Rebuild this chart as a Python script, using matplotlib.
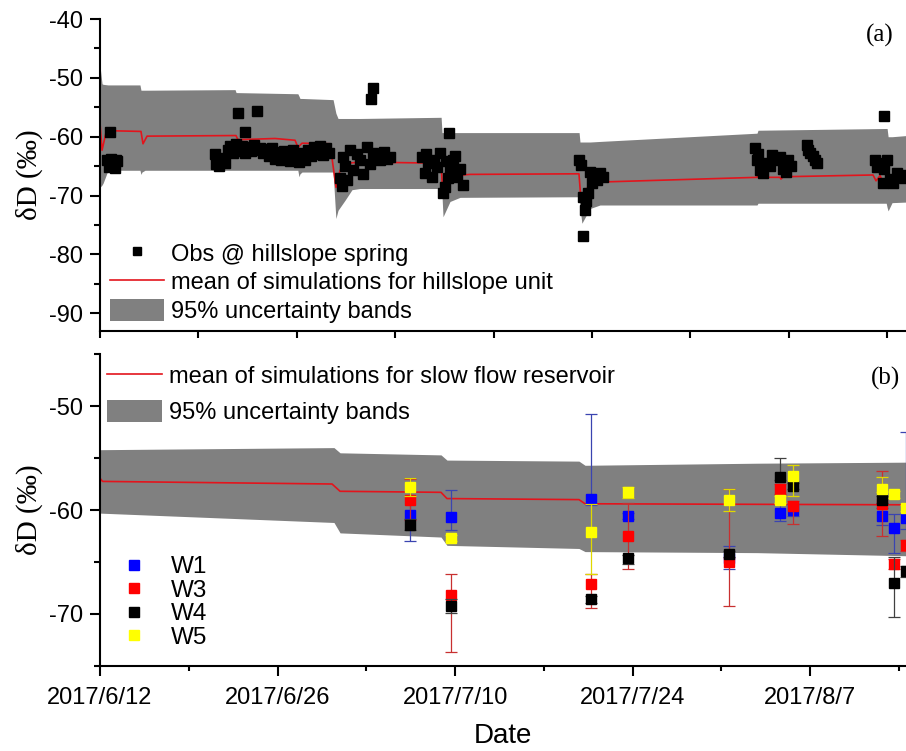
import numpy as np
import matplotlib
matplotlib.use('Agg')
import matplotlib.pyplot as plt
from matplotlib.ticker import MultipleLocator, FixedLocator, NullFormatter
from matplotlib.lines import Line2D
from matplotlib.patches import Patch

plt.rcParams['font.family'] = ['Liberation Sans', 'DejaVu Sans']
plt.rcParams['axes.unicode_minus'] = False

# ---------------- data (days since 2017/6/12) ----------------
date_labels = ["2017/6/12", "2017/6/26", "2017/7/10", "2017/7/24", "2017/8/7"]
date_label_days = [0, 14, 28, 42, 56]

# (a) hillslope unit: 95% band
a_band_day = [0, 0.16, 0.24, 0.63, 3.15, 3.23, 3.31, 3.55, 10.65, 10.73, 15.6, 15.69,
              15.77, 15.93, 18.38, 18.6, 18.77, 19.32, 19.87, 20.5, 26.9, 26.97, 27.05,
              27.6, 28.39, 37.78, 37.85, 38.0, 38.64, 39.43, 51.81, 51.89, 62.0, 62.07,
              62.15, 62.46, 63.6]
a_band_lo = [-68.6, -68.2, -67.9, -65.7, -65.7, -66.4, -66.0, -65.7, -65.7, -65.7, -65.7,
             -66.8, -66.3, -66.0, -66.0, -73.9, -72.5, -70.8, -69.0, -68.8, -68.8, -70.0,
             -73.6, -71.0, -70.3, -70.2, -72.0, -74.7, -72.2, -71.6, -71.6, -71.3, -71.3,
             -72.0, -72.6, -71.2, -71.1]
a_band_hi = [-48.0, -51.0, -51.1, -51.2, -51.2, -52.1, -52.1, -52.1, -52.0, -52.5, -52.7,
             -53.1, -53.5, -53.5, -53.7, -56.0, -56.9, -56.9, -56.9, -56.9, -56.7, -59.3,
             -59.3, -59.3, -59.3, -59.3, -60.9, -60.9, -60.9, -60.8, -59.4, -58.9, -58.6,
             -58.6, -60.0, -60.0, -59.8]
# (a) mean of simulations
a_mean_day = [0, 0.16, 0.47, 1.18, 3.23, 3.39, 3.71, 10.72, 10.88, 13.80, 15.38, 15.61,
              15.93, 18.14, 18.61, 18.93, 19.56, 20.50, 26.89, 27.05, 27.36, 28.00, 29.18,
              37.77, 37.93, 38.48, 39.43, 51.81, 51.89, 52.05, 53.62, 53.70, 53.86, 60.96,
              61.20, 61.51, 61.91, 62.30, 63.6]
a_mean = [-57.7, -62.3, -59.3, -59.0, -59.1, -61.2, -59.9, -59.8, -60.5, -60.3, -60.6,
          -61.8, -61.1, -61.2, -68.6, -65.7, -64.5, -64.3, -64.5, -70.2, -67.5, -66.6,
          -66.4, -66.3, -70.8, -68.5, -67.7, -66.9, -66.5, -66.9, -66.9, -67.2, -66.8,
          -66.5, -67.5, -66.6, -68.5, -67.3, -67.0]
# (a) observations at hillslope spring
obs_day = [0.55, 0.71, 0.87, 1.03, 1.18, 1.34, 0.79, 1.26, 0.79,
           9.07, 9.15, 9.38, 9.62, 9.86, 10.09, 10.25, 10.49, 10.72, 10.96, 11.20, 11.43,
           11.67, 11.91, 12.14, 12.38, 12.62, 12.85, 13.09, 13.33, 13.56, 13.80, 14.04,
           14.27, 14.51, 14.75, 14.98, 15.22, 15.46, 15.69, 15.93, 16.17, 16.40, 16.64,
           16.88, 17.11, 17.35, 17.59, 17.82, 18.06, 10.88, 12.38, 11.43,
           18.93, 19.08, 19.16, 19.32, 19.48, 19.72, 19.95, 20.27, 20.50, 20.74, 21.06,
           21.29, 21.53, 21.84, 22.08, 22.40, 22.63, 22.87, 21.53, 21.37,
           25.39, 25.63, 25.71, 25.87, 26.18, 26.34, 26.58, 26.81, 27.52, 27.84, 28.39,
           28.63, 27.21, 27.05, 28.15, 27.29, 27.60, 28.00, 27.44,
           37.77, 37.93, 38.09, 38.25, 38.09, 38.80, 39.04, 39.43, 38.48, 39.19, 38.64,
           39.67, 38.33,
           51.65, 51.81, 52.05, 52.60, 52.99, 53.39, 53.86, 54.25, 52.28, 52.83, 53.62,
           54.10, 54.49, 51.89,
           55.75, 55.99, 56.38, 56.54, 55.83, 56.23,
           61.83, 61.12, 61.51, 62.06, 61.75, 62.30, 62.85, 63.25, 62.54, 61.27, 61.83, 63.40]
obs_val = [-64.0, -65.2, -63.7, -64.8, -65.3, -64.2, -64.6, -63.9, -59.2,
           -63.0, -64.6, -65.0, -63.6, -64.4, -62.3, -61.6, -62.7, -61.3, -62.4, -61.5, -62.8,
           -61.7, -62.5, -61.4, -62.3, -61.9, -62.8, -62.1, -63.2, -62.0, -63.8, -62.6,
           -64.0, -62.4, -63.5, -64.2, -62.3, -63.6, -64.3, -62.8, -63.9, -62.2, -63.3,
           -61.7, -62.9, -61.6, -63.1, -62.0, -62.8, -55.9, -55.6, -59.2,
           -67.0, -68.3, -63.4, -65.0, -67.4, -62.3, -65.7, -63.0, -64.0, -66.3, -61.7,
           -64.6, -62.8, -63.2, -64.0, -62.6, -63.7, -63.5, -51.7, -53.6,
           -63.4, -66.2, -63.0, -64.5, -66.8, -64.0, -65.1, -62.8, -59.3, -64.0, -65.4,
           -68.2, -68.5, -69.6, -66.8, -64.2, -65.5, -63.3, -67.0,
           -64.0, -64.8, -70.2, -72.5, -76.9, -67.9, -66.5, -66.2, -69.6, -67.4, -66.0,
           -66.8, -71.0,
           -62.0, -64.0, -65.7, -64.5, -63.1, -64.0, -65.4, -64.0, -66.2, -65.0, -63.5,
           -66.0, -65.0, -63.0,
           -61.4, -62.8, -64.0, -64.5, -62.2, -63.2,
           -56.5, -64.0, -64.5, -64.0, -67.9, -67.1, -66.2, -66.5, -67.9, -65.2, -65.5, -67.0]

# (b) slow flow reservoir
b_band_day = [0, 18.45, 18.93, 26.89, 27.36, 37.77, 38.25, 51.81, 63.6]
b_band_lo = [-60.3, -61.2, -62.2, -62.6, -63.4, -63.7, -64.0, -64.1, -64.4]
b_band_hi = [-54.2, -54.0, -54.5, -54.7, -55.2, -55.3, -55.7, -55.5, -55.4]
b_mean_day = [0, 0.2, 18.3, 18.93, 26.89, 27.36, 37.77, 38.25, 63.6]
b_mean = [-56.95, -57.25, -57.5, -58.2, -58.3, -58.9, -59.0, -59.4, -59.5]

well_day = [24.45, 27.66, 38.70, 41.62, 49.60, 53.62, 54.63, 61.64, 62.64, 63.56]
W1 = [-60.5, -60.7, -58.9, -60.6, -64.6, -60.3, -60.0, -60.6, -61.7, -60.8]
W1_lo = [2.5, 1.2, 0.6, 0.3, 1.1, 0.8, 0.6, 0.8, 2.4, 1.0]
W1_hi = [3.6, 2.6, 8.1, 0.3, 1.1, 0.8, 0.6, 0.8, 1.3, 8.3]
W3 = [-59.0, -68.2, -67.1, -62.5, -65.0, -58.0, -59.6, -59.4, -65.2, -63.4]
W3_lo = [2.0, 5.5, 2.3, 3.2, 4.2, 0.5, 1.7, 3.1, 0.5, 0.5]
W3_hi = [2.0, 2.0, 0.9, 3.2, 7.0, 0.5, 0.5, 3.15, 0.5, 0.5]
W4 = [-61.4, -69.2, -68.6, -64.6, -64.2, -56.8, -57.7, -59.0, -67.0, -65.9]
W4_lo = [0.5, 0.7, 0.3, 0.6, 0.3, 0.3, 0.3, 0.3, 3.3, 0.5]
W4_hi = [0.5, 0.6, 0.3, 0.3, 0.3, 1.8, 0.3, 0.3, 2.5, 0.5]
W5 = [-57.8, -62.7, -62.1, -58.3, -59.0, -59.0, -56.7, -58.0, -58.5, -59.8]
W5_lo = [0.9, 0.3, 4.1, 0.5, 1.1, 0.3, 2.0, 0.3, 0.3, 0.3]
W5_hi = [0.9, 0.3, 2.7, 0.5, 1.0, 0.3, 1.0, 1.2, 0.3, 0.3]

wells = [("W1", W1, W1_lo, W1_hi, "#0000ff", "#3a44b0"),
         ("W3", W3, W3_lo, W3_hi, "#ff0000", "#c83030"),
         ("W4", W4, W4_lo, W4_hi, "#000000", "#404040"),
         ("W5", W5, W5_lo, W5_hi, "#ffff00", "#e0d800")]

# ---------------- figure ----------------
GRAY = "#808080"
RED = "#e3141c"
X_MAX = 63.56

fig = plt.figure(figsize=(9.06, 7.51), dpi=100)
ax1 = fig.add_axes([0.1104, 0.5593, 0.8896, 0.4154])
ax2 = fig.add_axes([0.1104, 0.1132, 0.8896, 0.4154])

for ax in (ax1, ax2):
    for s in ("top", "right"):
        ax.spines[s].set_visible(False)
    for s in ("left", "bottom"):
        ax.spines[s].set_linewidth(1.5)
    ax.set_xlim(0, X_MAX)
    ax.tick_params(which="major", direction="out", width=1.5, labelsize=17)
    ax.tick_params(which="minor", direction="out", width=1.5)

# panel (a)
ax1.fill_between(a_band_day, a_band_lo, a_band_hi, color=GRAY, lw=0, zorder=1)
ax1.plot(a_mean_day, a_mean, color=RED, lw=1.2, zorder=2)
ax1.plot(obs_day, obs_val, ls="none", marker="s", ms=6.8, color="black", zorder=3)
ax1.set_ylim(-93, -40)
ax1.yaxis.set_major_locator(MultipleLocator(10))
ax1.yaxis.set_minor_locator(MultipleLocator(5))
ax1.xaxis.set_major_locator(FixedLocator(np.arange(0, X_MAX, 7.76)))
ax1.xaxis.set_major_formatter(NullFormatter())
ax1.tick_params(axis="y", which="major", length=7.5, pad=5)
ax1.tick_params(axis="y", which="minor", length=4)
ax1.tick_params(axis="x", which="major", length=5)
ax1.set_ylabel("δD (‰)", family=["Liberation Serif", "DejaVu Serif"], fontsize=21, labelpad=4)
ax1.text(0.968, 0.946, "(a)", transform=ax1.transAxes, ha="center", va="center",
         family=["Liberation Serif", "DejaVu Serif"], fontsize=18)

h_obs = Line2D([], [], ls="none", marker="s", ms=5.5, color="black")
h_mean = Line2D([], [], color=RED, lw=1.2)
h_band = Patch(facecolor=GRAY, edgecolor="none")
ax1.legend([h_obs, h_mean, h_band],
           ["Obs @ hillslope spring", "mean of simulations for hillslope unit",
            "95% uncertainty bands"],
           loc="lower left", bbox_to_anchor=(0.012, 0.025), borderaxespad=0, borderpad=0,
           frameon=False, fontsize=17, handlelength=2.3, handleheight=1.06,
           handletextpad=0.3, labelspacing=0.2)

# panel (b)
ax2.fill_between(b_band_day, b_band_lo, b_band_hi, color=GRAY, lw=0, zorder=1)
ax2.plot(b_mean_day, b_mean, color=RED, lw=1.2, zorder=2)
well_handles = []
for i, (name, vals, lo, hi, fc, ec) in enumerate(wells):
    ax2.errorbar(well_day, vals, yerr=[lo, hi], fmt="s", ms=7.5, mfc=fc, mec=fc,
                 ecolor=ec, elinewidth=0.9, capsize=4, capthick=0.9, zorder=3 + i)
    well_handles.append(Line2D([], [], ls="none", marker="s", ms=7.5, mfc=fc, mec=fc))
ax2.set_ylim(-75, -45)
ax2.yaxis.set_major_locator(MultipleLocator(10))
ax2.yaxis.set_minor_locator(MultipleLocator(5))
ax2.xaxis.set_major_locator(FixedLocator(date_label_days))
ax2.xaxis.set_minor_locator(MultipleLocator(7))
ax2.set_xticklabels(date_labels)
ax2.tick_params(axis="y", which="major", length=7.5, pad=5)
ax2.tick_params(axis="y", which="minor", length=4)
ax2.tick_params(axis="x", which="major", length=7.2, pad=8)
ax2.tick_params(axis="x", which="minor", length=3.6)
ax2.set_ylabel("δD (‰)", family=["Liberation Serif", "DejaVu Serif"], fontsize=21, labelpad=4)
ax2.set_xlabel("Date", fontsize=20, labelpad=10)
ax2.text(0.974, 0.923, "(b)", transform=ax2.transAxes, ha="center", va="center",
         family=["Liberation Serif", "DejaVu Serif"], fontsize=18)

leg_sim = ax2.legend([h_mean, h_band],
                     ["mean of simulations for slow flow reservoir", "95% uncertainty bands"],
                     loc="upper left", bbox_to_anchor=(0.009, 0.968), borderaxespad=0,
                     borderpad=0, frameon=False, fontsize=17, handlelength=2.3,
                     handleheight=1.06, handletextpad=0.3, labelspacing=0.5)
ax2.add_artist(leg_sim)
ax2.legend(well_handles, [w[0] for w in wells], loc="lower left",
           bbox_to_anchor=(0.012, 0.055), borderaxespad=0, borderpad=0, frameon=False,
           fontsize=17.5, handlelength=2.0, handletextpad=0.5, labelspacing=0.06)

fig.savefig("out.png", dpi=100)
